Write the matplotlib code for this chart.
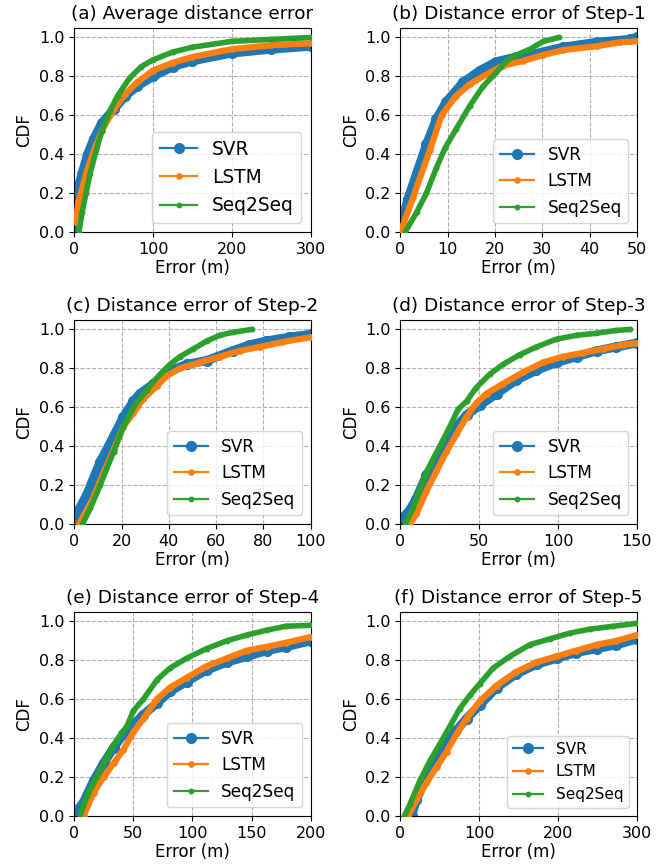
import matplotlib
matplotlib.use("agg")
import matplotlib.pyplot as plt

# CDF curves: (error in m, CDF) for each model
titles = [
    "(a) Average distance error",
    "(b) Distance error of Step-1",
    "(c) Distance error of Step-2",
    "(d) Distance error of Step-3",
    "(e) Distance error of Step-4",
    "(f) Distance error of Step-5",
]
x_max = [300, 50, 100, 150, 200, 300]
x_ticks = [
    [0, 100, 200, 300],
    [0, 10, 20, 30, 40, 50],
    [0, 20, 40, 60, 80, 100],
    [0, 50, 100, 150],
    [0, 50, 100, 150, 200],
    [0, 100, 200, 300],
]
models = ["SVR", "LSTM", "Seq2Seq"]

svr_x = [
    [0, 1, 3, 10, 17, 25, 35, 50, 65, 80, 100, 125, 150, 200, 250, 300],
    [0, 1.6, 3.4, 5.5, 7.6, 9.7, 13.3, 16.8, 20.3, 24.5, 27.4, 34.4, 41.5, 48.5, 50],
    [0, 5.3, 11, 16.6, 20.8, 25, 27.8, 33.5, 39, 47.5, 56, 67, 74, 81, 91, 100],
    [0, 5.9, 10, 16.5, 22.8, 29, 35.5, 41.9, 50.3, 61, 73.6, 86.3, 99, 111.7, 124.4, 137, 150],
    [0, 7.9, 16.3, 24.8, 33.2, 41.6, 50, 58.5, 70, 81, 95, 112, 129, 146, 163, 179, 200],
    [14, 20, 33, 45.7, 58.4, 71, 83.8, 100.7, 122, 147, 172.7, 198, 223, 249, 274, 300],
]
svr_y = [
    [0.02, 0.12, 0.2, 0.3, 0.4, 0.48, 0.56, 0.63, 0.7, 0.75, 0.8, 0.85, 0.88, 0.92, 0.94, 0.955],
    [0.02, 0.17, 0.3, 0.45, 0.58, 0.67, 0.77, 0.83, 0.875, 0.9, 0.91, 0.95, 0.975, 0.99, 1.0],
    [0.03, 0.15, 0.32, 0.45, 0.55, 0.63, 0.67, 0.72, 0.78, 0.82, 0.84, 0.89, 0.92, 0.94, 0.96, 0.975],
    [0.02, 0.07, 0.13, 0.25, 0.34, 0.42, 0.5, 0.56, 0.61, 0.67, 0.74, 0.79, 0.83, 0.86, 0.89, 0.91, 0.93],
    [0.01, 0.07, 0.18, 0.27, 0.35, 0.42, 0.47, 0.52, 0.58, 0.64, 0.69, 0.75, 0.79, 0.82, 0.85, 0.87, 0.9],
    [0.0, 0.08, 0.2, 0.3, 0.38, 0.44, 0.5, 0.57, 0.66, 0.73, 0.78, 0.81, 0.84, 0.86, 0.88, 0.91],
]

lstm_x = [
    [2, 5, 10, 15, 25, 35, 50, 65, 80, 100, 125, 150, 200, 250, 300],
    [0, 2.7, 6.2, 8.7, 11.8, 14.7, 18.2, 21.7, 26, 30.2, 34.4, 41.5, 46.4, 50],
    [2, 6.8, 11, 16.6, 20.8, 25, 29, 35, 39, 44.7, 53, 61.6, 70, 78.5, 88, 100],
    [6, 10, 16.5, 22.8, 29, 35.5, 41.9, 48, 54.6, 65, 77.8, 90.5, 103, 116, 128.6, 141, 150],
    [8, 16.3, 24.8, 33.2, 41.6, 50, 58.5, 70, 81, 95, 112, 129, 146, 163, 179, 200],
    [10, 20, 33, 45.7, 58.4, 71, 83.8, 100.7, 122, 147, 172.7, 198, 223, 249, 274, 300],
]
lstm_y = [
    [0.05, 0.15, 0.22, 0.3, 0.42, 0.52, 0.63, 0.71, 0.77, 0.83, 0.87, 0.9, 0.94, 0.96, 0.97],
    [0.0, 0.18, 0.42, 0.6, 0.7, 0.76, 0.81, 0.855, 0.88, 0.91, 0.935, 0.955, 0.975, 0.98],
    [0.0, 0.1, 0.22, 0.38, 0.5, 0.57, 0.64, 0.71, 0.76, 0.8, 0.83, 0.86, 0.89, 0.91, 0.935, 0.96],
    [0.0, 0.05, 0.17, 0.27, 0.37, 0.46, 0.55, 0.62, 0.67, 0.72, 0.78, 0.83, 0.86, 0.88, 0.9, 0.92, 0.93],
    [0.0, 0.12, 0.2, 0.27, 0.34, 0.43, 0.5, 0.6, 0.66, 0.71, 0.77, 0.81, 0.85, 0.87, 0.89, 0.92],
    [0.0, 0.08, 0.17, 0.25, 0.33, 0.42, 0.5, 0.59, 0.67, 0.74, 0.79, 0.82, 0.85, 0.88, 0.9, 0.93],
]

seq_x = [
    [6, 10, 15, 20, 28, 35, 45, 55, 70, 85, 100, 125, 150, 200, 250, 300],
    [1, 3.4, 5.5, 7.6, 9.4, 11.8, 14.7, 17.5, 20.3, 22.4, 24.5, 27.4, 30.2, 33.5],
    [3.5, 6.8, 11, 16.6, 20.8, 25, 30.7, 36.3, 40.5, 44.7, 50.4, 56, 61.6, 67, 75],
    [3, 8, 12.3, 18.6, 25, 31.3, 36.6, 41.9, 48, 56.7, 65, 75.7, 86.3, 99, 111.7, 124, 137, 145.6],
    [5, 10.7, 19, 27.6, 36, 44.4, 50, 58.5, 70, 81, 95, 112, 129, 146, 163, 179, 200],
    [5, 12, 24.5, 37, 50, 62.6, 75, 88, 100.7, 117.6, 138.8, 164, 189.6, 215, 240, 270, 300],
]
seq_y = [
    [0.0, 0.1, 0.2, 0.3, 0.42, 0.52, 0.62, 0.7, 0.79, 0.85, 0.885, 0.925, 0.95, 0.98, 0.99, 1.0],
    [0.0, 0.1, 0.2, 0.33, 0.43, 0.53, 0.65, 0.75, 0.82, 0.88, 0.91, 0.94, 0.98, 1.0],
    [0.0, 0.08, 0.2, 0.37, 0.5, 0.6, 0.69, 0.77, 0.82, 0.86, 0.9, 0.94, 0.97, 0.985, 1.0],
    [0.0, 0.08, 0.18, 0.3, 0.4, 0.5, 0.59, 0.63, 0.7, 0.77, 0.82, 0.87, 0.91, 0.95, 0.97, 0.98, 0.995, 1.0],
    [0.0, 0.1, 0.2, 0.3, 0.39, 0.46, 0.54, 0.6, 0.7, 0.76, 0.81, 0.86, 0.9, 0.93, 0.955, 0.975, 0.98],
    [0.0, 0.06, 0.18, 0.28, 0.37, 0.46, 0.55, 0.62, 0.68, 0.76, 0.82, 0.88, 0.91, 0.94, 0.96, 0.975, 0.99],
]

colors = ["#1f77b4", "#ff7f0e", "#2ca02c"]
marker_sizes = [7.0, 3.8, 3.2]
band_widths = [6.5, 4.5, 4.0]
legend_sizes = [13.4, 12.2, 12.2, 12.2, 12.2, 11.0]

plt.rcParams["font.family"] = "DejaVu Sans"
fig, axes = plt.subplots(3, 2, figsize=(6.69, 8.67), dpi=100)
fig.subplots_adjust(left=0.111, right=0.952, top=0.968, bottom=0.059,
                    wspace=0.38, hspace=0.43)

for i, ax in enumerate(axes.flat):
    series = [(svr_x[i], svr_y[i]), (lstm_x[i], lstm_y[i]), (seq_x[i], seq_y[i])]
    for k, (xs, ys) in enumerate(series):
        # thick band to mimic the densely packed markers of the original
        ax.plot(xs, ys, color=colors[k], lw=band_widths[k],
                solid_capstyle="round", solid_joinstyle="round", zorder=2 + k)
        ax.plot(xs, ys, color=colors[k], lw=1.6, marker="o",
                ms=marker_sizes[k], label=models[k], zorder=2 + k)

    ax.set_xlim(0, x_max[i])
    ax.set_ylim(0, 1.05)
    ax.set_xticks(x_ticks[i])
    ax.set_yticks([0.0, 0.2, 0.4, 0.6, 0.8, 1.0])
    ax.tick_params(labelsize=11.5)
    ax.grid(True, linestyle="--", color="#b0b0b0", linewidth=0.8)
    ax.set_axisbelow(True)
    ax.set_title(titles[i], fontsize=13.3)
    ax.set_xlabel("Error (m)", fontsize=12, labelpad=2)
    ax.set_ylabel("CDF", fontsize=12)
    ax.legend(loc="lower right", fontsize=legend_sizes[i], handlelength=2.0)

plt.savefig("out.png", dpi=100)
plt.close()
